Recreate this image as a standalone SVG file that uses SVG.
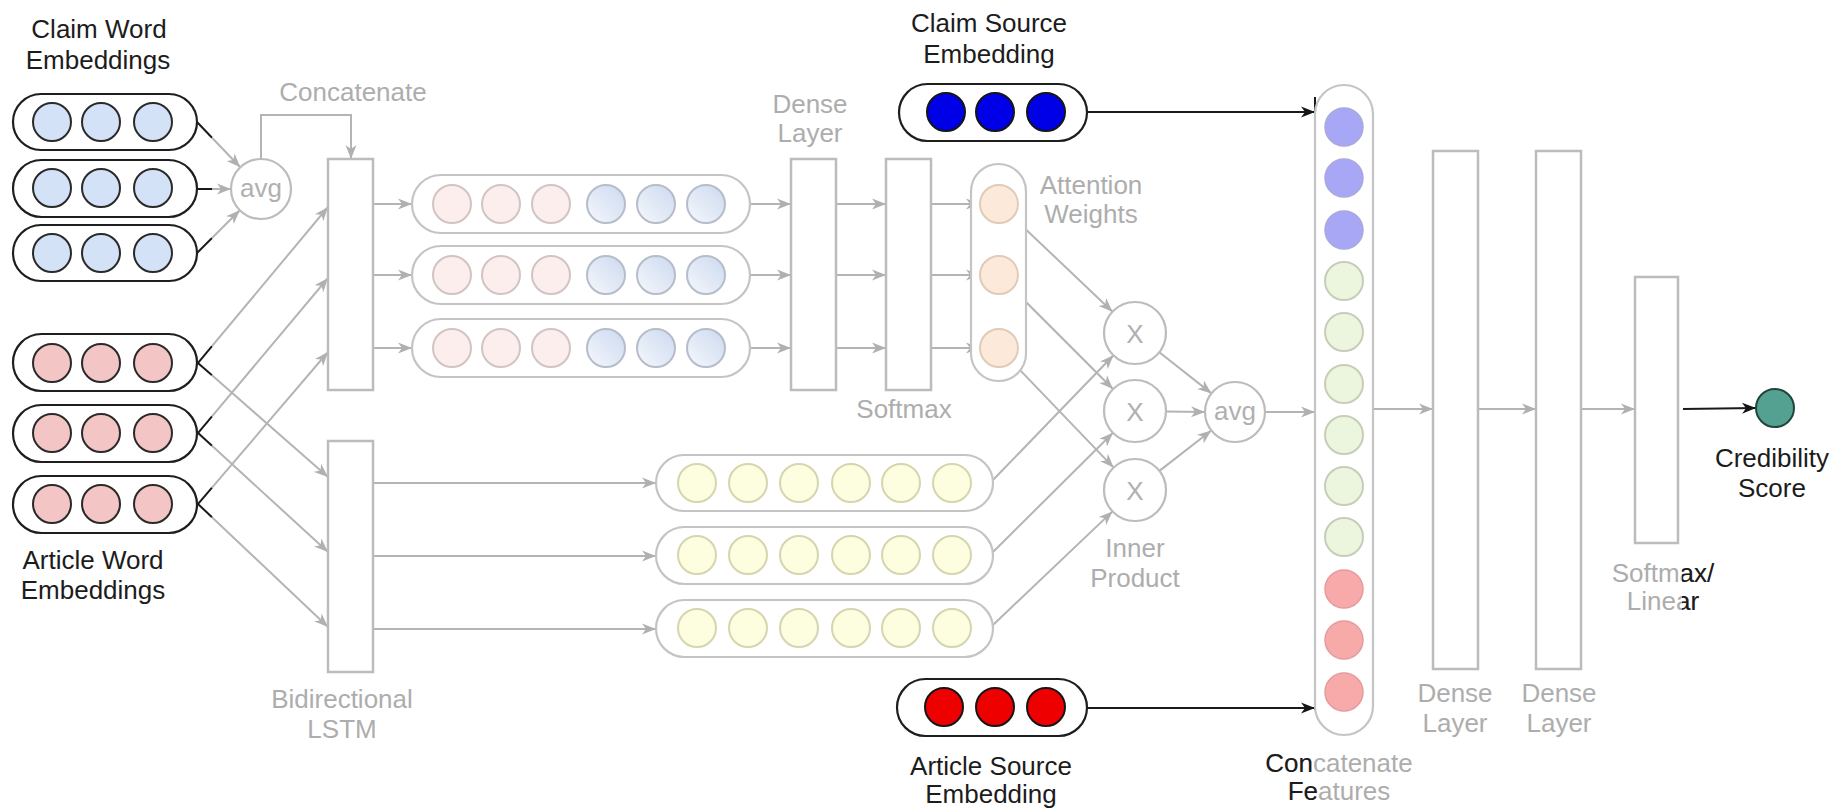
<svg xmlns="http://www.w3.org/2000/svg" width="1837" height="810" viewBox="0 0 1837 810">
<style>
text{font-family:"Liberation Sans",Arial,sans-serif;font-size:26px;text-anchor:middle}
.lbl{fill:#1c1c1c}
.glbl{fill:#adadad}
.pillK{fill:#fff;stroke:#1e1e1e;stroke-width:2.2}
.pillG{fill:#fff;stroke:#c4c4c4;stroke-width:2.2}
.box{fill:#fff;stroke:#bcbcbc;stroke-width:2.5}
.opG{fill:#fff;stroke:#bcbcbc;stroke-width:2.2}
.cw{fill:#d3e2f6;stroke:#2a2a2a;stroke-width:2}
.aw{fill:#f4c5c5;stroke:#2a2a2a;stroke-width:2}
.pp{fill:#fbeeed;stroke:#d3c4c4;stroke-width:2}
.pb{fill:url(#gb);stroke:#b6bdca;stroke-width:2}
.at{fill:#fce9da;stroke:#dfcbb9;stroke-width:2}
.yl{fill:#fdfddf;stroke:#d6d5b0;stroke-width:2}
.cb{fill:#a7a7f6;stroke:#a9a9dc;stroke-width:1.5}
.cg{fill:#ecf5de;stroke:#c6ceb9;stroke-width:2}
.cp{fill:#f8a9a9;stroke:#e39c9c;stroke-width:1.5}
.sb{fill:#0000e6;stroke:#151515;stroke-width:2}
.sr{fill:#ee0000;stroke:#151515;stroke-width:2}
.g{fill:none;stroke:#b4b4b4;stroke-width:2}
.ga{fill:none;stroke:#b4b4b4;stroke-width:2;marker-end:url(#ag)}
.k{fill:none;stroke:#1a1a1a;stroke-width:2}
.ka{fill:none;stroke:#1a1a1a;stroke-width:2;marker-end:url(#ak)}
.opt{fill:#b0b0b0}
</style>
<defs>
<marker id="ag" markerUnits="userSpaceOnUse" markerWidth="16" markerHeight="12" refX="14" refY="6" orient="auto">
<path d="M0,0.5 L14,6 L0,11.5 L4,6 Z" fill="#b0b0b0"/>
</marker>
<marker id="ak" markerUnits="userSpaceOnUse" markerWidth="16" markerHeight="12" refX="14" refY="6" orient="auto">
<path d="M0,0.5 L14,6 L0,11.5 L4,6 Z" fill="#151515"/>
</marker>
<linearGradient id="gb" x1="0" y1="1" x2="1" y2="0">
<stop offset="0" stop-color="#f6f8fc"/>
<stop offset="1" stop-color="#cbd9ef"/>
</linearGradient>
<clipPath id="clipL1"><rect x="0" y="745" width="1313" height="35"/></clipPath>
<clipPath id="clipL2"><rect x="0" y="780" width="1319" height="30"/></clipPath>
<clipPath id="clipR"><rect x="1682" y="555" width="155" height="70"/></clipPath>
</defs>
<rect width="1837" height="810" fill="#fff"/>

<g id="connectors">
<line class="k" x1="197" y1="122" x2="212" y2="137.7"/>
<line class="ga" x1="212" y1="137.7" x2="240.3" y2="167.3"/>
<line class="k" x1="197" y1="189" x2="212" y2="189"/>
<line class="ga" x1="212" y1="189" x2="231" y2="189"/>
<line class="k" x1="197" y1="253" x2="212" y2="238"/>
<line class="ga" x1="212" y1="238" x2="239.8" y2="210.2"/>
<polyline class="ga" points="261,159 261,115 351,115 351,159"/>
<line class="k" x1="191" y1="371.4" x2="212" y2="346.2"/>
<line class="ga" x1="212" y1="346.2" x2="328" y2="207"/>
<line class="k" x1="191" y1="356.9" x2="212" y2="375.3"/>
<line class="ga" x1="212" y1="375.3" x2="328" y2="477"/>
<line class="k" x1="191" y1="441.3" x2="212" y2="416.3"/>
<line class="ga" x1="212" y1="416.3" x2="328" y2="278"/>
<line class="k" x1="191" y1="426.6" x2="212" y2="445.8"/>
<line class="ga" x1="212" y1="445.8" x2="328" y2="552"/>
<line class="k" x1="191" y1="512.2" x2="212" y2="487.6"/>
<line class="ga" x1="212" y1="487.6" x2="328" y2="352"/>
<line class="k" x1="191" y1="497.4" x2="212" y2="517.2"/>
<line class="ga" x1="212" y1="517.2" x2="328" y2="627"/>
<line class="ga" x1="373" y1="204" x2="412" y2="204"/>
<line class="ga" x1="373" y1="275" x2="412" y2="275"/>
<line class="ga" x1="373" y1="348" x2="412" y2="348"/>
<line class="ga" x1="750" y1="204" x2="791" y2="204"/>
<line class="ga" x1="750" y1="275" x2="791" y2="275"/>
<line class="ga" x1="750" y1="348" x2="791" y2="348"/>
<line class="ga" x1="836" y1="204" x2="886" y2="204"/>
<line class="ga" x1="836" y1="275" x2="886" y2="275"/>
<line class="ga" x1="836" y1="348" x2="886" y2="348"/>
<line class="ga" x1="931" y1="204" x2="980" y2="204"/>
<line class="ga" x1="931" y1="275" x2="980" y2="275"/>
<line class="ga" x1="931" y1="348" x2="980" y2="348"/>
<line class="ga" x1="373" y1="483" x2="656" y2="483"/>
<line class="ga" x1="373" y1="556" x2="656" y2="556"/>
<line class="ga" x1="373" y1="629" x2="656" y2="629"/>
<line class="ga" x1="1012.8" y1="217" x2="1112.5" y2="311.7"/>
<line class="ga" x1="1012.4" y1="288.4" x2="1113" y2="389"/>
<line class="ga" x1="1012" y1="361.7" x2="1113.6" y2="467.6"/>
<line class="ga" x1="993" y1="480" x2="1113.5" y2="355.3"/>
<line class="ga" x1="993" y1="552" x2="1113" y2="432.8"/>
<line class="ga" x1="993" y1="625" x2="1112.5" y2="511.4"/>
<line class="ga" x1="1159.3" y1="352.2" x2="1211.5" y2="393.4"/>
<line class="ga" x1="1166" y1="411.5" x2="1205" y2="412"/>
<line class="ga" x1="1159.4" y1="470.9" x2="1211.3" y2="430.5"/>
<line class="ga" x1="1265" y1="412" x2="1315" y2="412"/>
<line class="ga" x1="1373" y1="409" x2="1433" y2="409"/>
<line class="ga" x1="1478" y1="409" x2="1536" y2="409"/>
<line class="ga" x1="1581" y1="409" x2="1635" y2="409"/>
<line class="ka" x1="1683" y1="409" x2="1756" y2="408"/>
<line class="ka" x1="1087" y1="112" x2="1315" y2="112"/>
<line class="ka" x1="1087" y1="708" x2="1315" y2="708"/>
<line class="k" x1="1315" y1="97" x2="1315" y2="155" stroke-width="1.5"/>
<line class="k" x1="1315" y1="673" x2="1315" y2="710" stroke-width="1.5"/>
</g>

<g id="claim-word-embeddings">
<text class="lbl" x="99" y="38">Claim Word</text>
<text class="lbl" x="98" y="69">Embeddings</text>
<rect class="pillK" x="13" y="94" width="184" height="56" rx="28"/>
<circle class="cw" cx="52" cy="122" r="19"/><circle class="cw" cx="101" cy="122" r="19"/><circle class="cw" cx="153" cy="122" r="19"/>
<rect class="pillK" x="13" y="160" width="184" height="57" rx="28.5"/>
<circle class="cw" cx="52" cy="188" r="19"/><circle class="cw" cx="101" cy="188" r="19"/><circle class="cw" cx="153" cy="188" r="19"/>
<rect class="pillK" x="13" y="225" width="184" height="56" rx="28"/>
<circle class="cw" cx="52" cy="253" r="19"/><circle class="cw" cx="101" cy="253" r="19"/><circle class="cw" cx="153" cy="253" r="19"/>
</g>

<g id="article-word-embeddings">
<rect class="pillK" x="13" y="334" width="184" height="57" rx="28.5"/>
<circle class="aw" cx="52" cy="363" r="19"/><circle class="aw" cx="101" cy="363" r="19"/><circle class="aw" cx="153" cy="363" r="19"/>
<rect class="pillK" x="13" y="405" width="184" height="57" rx="28.5"/>
<circle class="aw" cx="52" cy="433" r="19"/><circle class="aw" cx="101" cy="433" r="19"/><circle class="aw" cx="153" cy="433" r="19"/>
<rect class="pillK" x="13" y="476" width="184" height="57" rx="28.5"/>
<circle class="aw" cx="52" cy="504" r="19"/><circle class="aw" cx="101" cy="504" r="19"/><circle class="aw" cx="153" cy="504" r="19"/>
<text class="lbl" x="93" y="569">Article Word</text>
<text class="lbl" x="93" y="599">Embeddings</text>
</g>

<g id="avg-claim">
<circle class="opG" cx="261" cy="189" r="30"/>
<text class="opt" x="261" y="197">avg</text>
</g>

<g id="concatenate">
<text class="glbl" x="353" y="101">Concatenate</text>
<rect class="box" x="328" y="159" width="45" height="231"/>
</g>

<g id="bilstm">
<rect class="box" x="328" y="441" width="45" height="231"/>
<text class="glbl" x="342" y="708">Bidirectional</text>
<text class="glbl" x="342" y="738">LSTM</text>
</g>

<g id="claim-article-vectors">
<rect class="pillG" x="412" y="175" width="338" height="58" rx="29"/>
<rect class="pillG" x="412" y="246" width="338" height="58" rx="29"/>
<rect class="pillG" x="412" y="319" width="338" height="58" rx="29"/>
<circle class="pp" cx="452" cy="204" r="19"/><circle class="pp" cx="501" cy="204" r="19"/><circle class="pp" cx="551" cy="204" r="19"/>
<circle class="pb" cx="606" cy="204" r="19"/><circle class="pb" cx="656" cy="204" r="19"/><circle class="pb" cx="706" cy="204" r="19"/>
<circle class="pp" cx="452" cy="275" r="19"/><circle class="pp" cx="501" cy="275" r="19"/><circle class="pp" cx="551" cy="275" r="19"/>
<circle class="pb" cx="606" cy="275" r="19"/><circle class="pb" cx="656" cy="275" r="19"/><circle class="pb" cx="706" cy="275" r="19"/>
<circle class="pp" cx="452" cy="348" r="19"/><circle class="pp" cx="501" cy="348" r="19"/><circle class="pp" cx="551" cy="348" r="19"/>
<circle class="pb" cx="606" cy="348" r="19"/><circle class="pb" cx="656" cy="348" r="19"/><circle class="pb" cx="706" cy="348" r="19"/>
</g>

<g id="dense-layer-1">
<text class="glbl" x="810" y="113">Dense</text>
<text class="glbl" x="810" y="142">Layer</text>
<rect class="box" x="791" y="159" width="45" height="231"/>
</g>

<g id="softmax">
<rect class="box" x="886" y="159" width="45" height="231"/>
<text class="glbl" x="904" y="418">Softmax</text>
</g>

<g id="attention-weights">
<rect class="pillG" x="971" y="164" width="55" height="217" rx="27.5"/>
<circle class="at" cx="999" cy="204" r="19"/>
<circle class="at" cx="999" cy="275" r="19"/>
<circle class="at" cx="999" cy="348" r="19"/>
<text class="glbl" x="1091" y="194">Attention</text>
<text class="glbl" x="1091" y="223">Weights</text>
</g>

<g id="article-lstm-outputs">
<rect class="pillG" x="656" y="455" width="337" height="56" rx="28"/>
<rect class="pillG" x="656" y="527" width="337" height="57" rx="28.5"/>
<rect class="pillG" x="656" y="600" width="337" height="57" rx="28.5"/>
<circle class="yl" cx="697" cy="483" r="19"/><circle class="yl" cx="748" cy="483" r="19"/><circle class="yl" cx="799" cy="483" r="19"/><circle class="yl" cx="851" cy="483" r="19"/><circle class="yl" cx="901" cy="483" r="19"/><circle class="yl" cx="952" cy="483" r="19"/>
<circle class="yl" cx="697" cy="555" r="19"/><circle class="yl" cx="748" cy="555" r="19"/><circle class="yl" cx="799" cy="555" r="19"/><circle class="yl" cx="851" cy="555" r="19"/><circle class="yl" cx="901" cy="555" r="19"/><circle class="yl" cx="952" cy="555" r="19"/>
<circle class="yl" cx="697" cy="628" r="19"/><circle class="yl" cx="748" cy="628" r="19"/><circle class="yl" cx="799" cy="628" r="19"/><circle class="yl" cx="851" cy="628" r="19"/><circle class="yl" cx="901" cy="628" r="19"/><circle class="yl" cx="952" cy="628" r="19"/>
</g>

<g id="inner-product">
<circle class="opG" cx="1135" cy="333" r="31"/><text class="opt" x="1135" y="343">X</text>
<circle class="opG" cx="1135" cy="411" r="31"/><text class="opt" x="1135" y="421">X</text>
<circle class="opG" cx="1135" cy="490" r="31"/><text class="opt" x="1135" y="500">X</text>
<text class="glbl" x="1135" y="557">Inner</text>
<text class="glbl" x="1135" y="587">Product</text>
</g>

<g id="avg-article">
<circle class="opG" cx="1235" cy="412" r="30"/>
<text class="opt" x="1235" y="420">avg</text>
</g>

<g id="claim-source-embedding">
<text class="lbl" x="989" y="32">Claim Source</text>
<text class="lbl" x="989" y="63">Embedding</text>
<rect class="pillK" x="899" y="84" width="188" height="57" rx="28.5"/>
<circle class="sb" cx="946" cy="112" r="19"/><circle class="sb" cx="995" cy="112" r="19"/><circle class="sb" cx="1046" cy="112" r="19"/>
</g>

<g id="article-source-embedding">
<rect class="pillK" x="897" y="679" width="190" height="57" rx="28.5"/>
<circle class="sr" cx="944" cy="707" r="19"/><circle class="sr" cx="995" cy="707" r="19"/><circle class="sr" cx="1046" cy="707" r="19"/>
<text class="lbl" x="991" y="775">Article Source</text>
<text class="lbl" x="991" y="803">Embedding</text>
</g>

<g id="concatenate-features">
<rect class="pillG" x="1315" y="85" width="58" height="650" rx="29"/>
<circle class="cb" cx="1344" cy="127" r="19"/>
<circle class="cb" cx="1344" cy="178" r="19"/>
<circle class="cb" cx="1344" cy="230" r="19"/>
<circle class="cg" cx="1344" cy="281" r="19"/>
<circle class="cg" cx="1344" cy="332" r="19"/>
<circle class="cg" cx="1344" cy="384" r="19"/>
<circle class="cg" cx="1344" cy="435" r="19"/>
<circle class="cg" cx="1344" cy="486" r="19"/>
<circle class="cg" cx="1344" cy="537" r="19"/>
<circle class="cp" cx="1344" cy="589" r="19"/>
<circle class="cp" cx="1344" cy="640" r="19"/>
<circle class="cp" cx="1344" cy="692" r="19"/>
<text class="glbl" x="1339" y="772">Concatenate</text>
<text class="glbl" x="1339" y="800">Features</text>
<text class="lbl" x="1339" y="772" clip-path="url(#clipL1)">Concatenate</text>
<text class="lbl" x="1339" y="800" clip-path="url(#clipL2)">Features</text>
</g>

<g id="dense-layer-2">
<rect class="box" x="1433" y="151" width="45" height="518"/>
<text class="glbl" x="1455" y="702">Dense</text>
<text class="glbl" x="1455" y="732">Layer</text>
</g>

<g id="dense-layer-3">
<rect class="box" x="1536" y="151" width="45" height="518"/>
<text class="glbl" x="1559" y="702">Dense</text>
<text class="glbl" x="1559" y="732">Layer</text>
</g>

<g id="softmax-linear">
<rect class="box" x="1635" y="277" width="43" height="266"/>
<text class="glbl" x="1663" y="582">Softmax/</text>
<text class="glbl" x="1663" y="610">Linear</text>
<g clip-path="url(#clipR)">
<text class="lbl" x="1663" y="582">Softmax/</text>
<text class="lbl" x="1663" y="610">Linear</text>
</g>
</g>

<g id="credibility-score">
<circle cx="1775" cy="408" r="19" fill="#55a191" stroke="#22443d" stroke-width="2"/>
<text class="lbl" x="1772" y="467">Credibility</text>
<text class="lbl" x="1772" y="497">Score</text>
</g>
</svg>
